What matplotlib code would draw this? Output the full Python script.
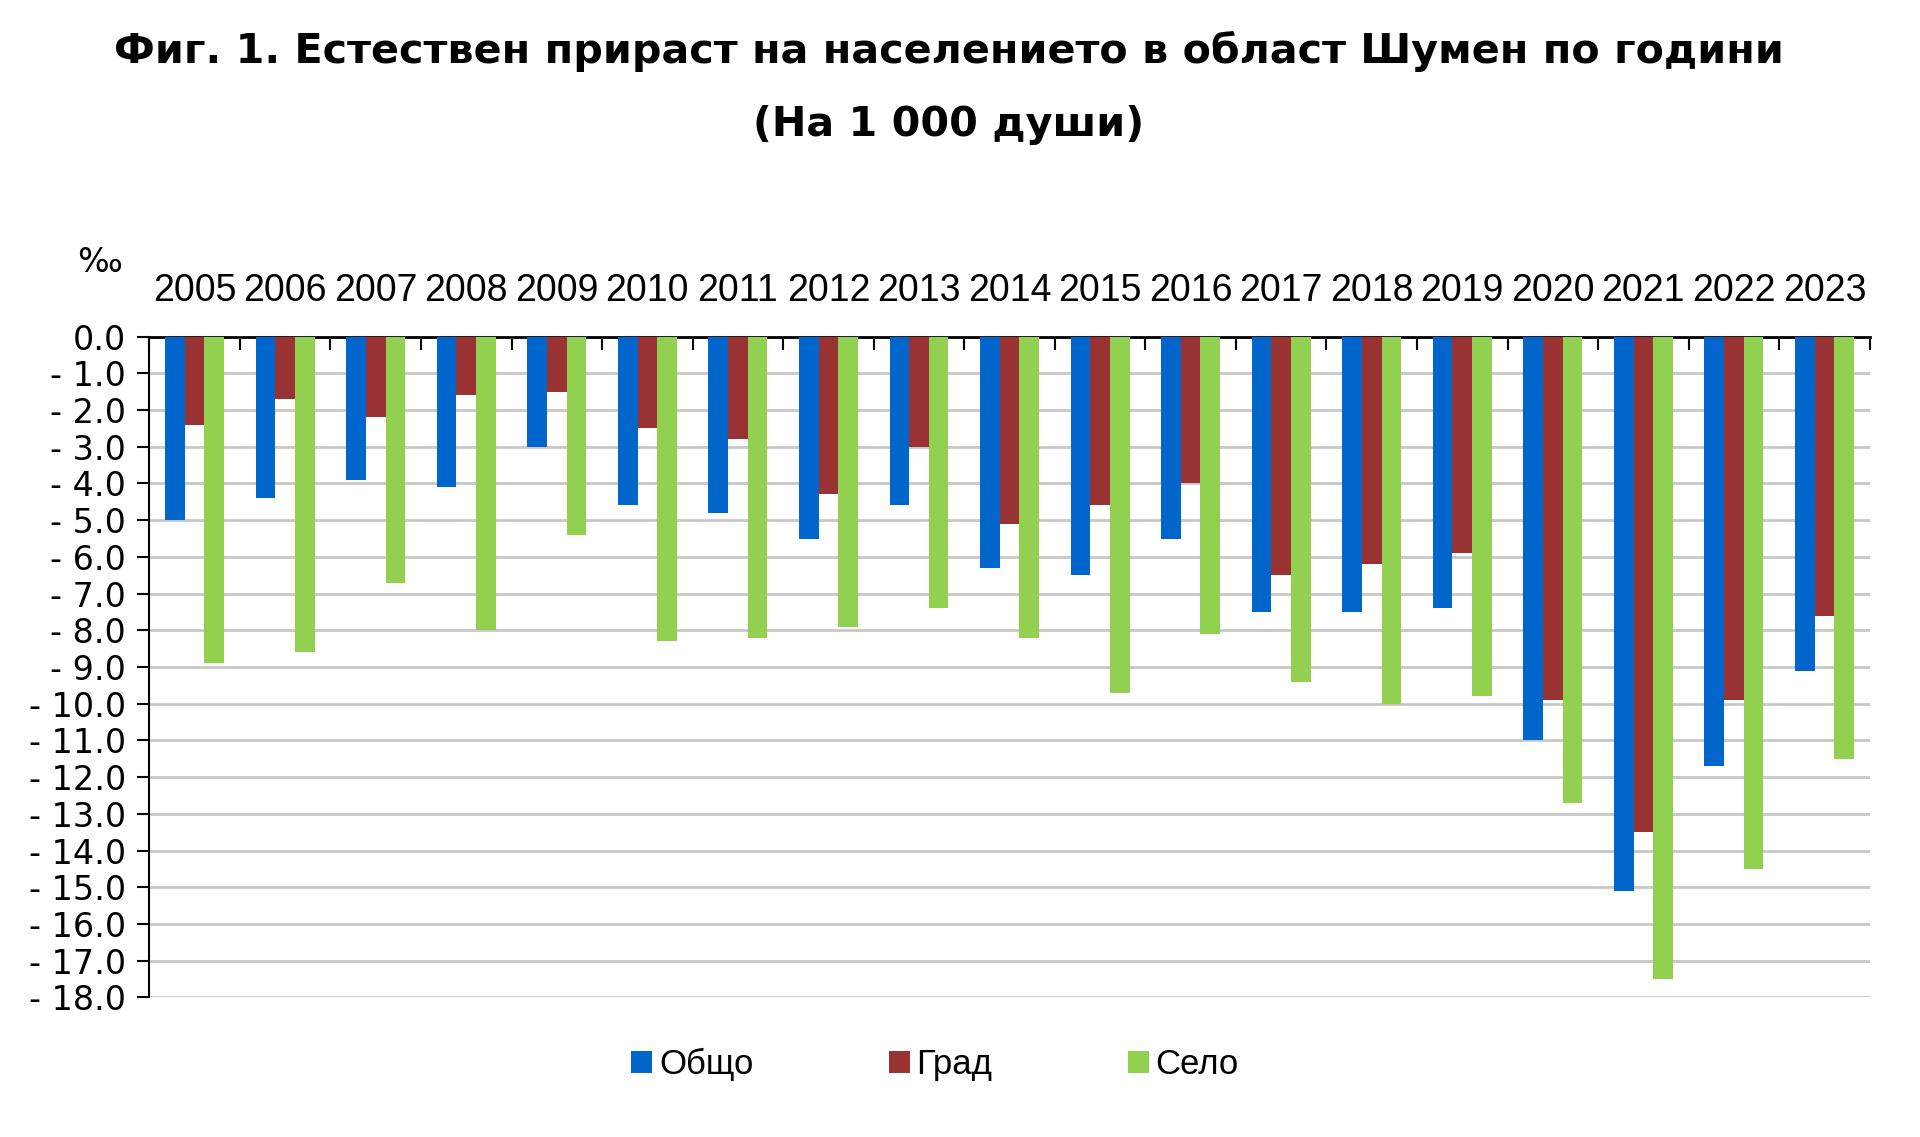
import numpy as np
import matplotlib
matplotlib.use("Agg")
import matplotlib.pyplot as plt
from matplotlib.patches import Patch
from matplotlib.ticker import FixedLocator

# data (per 1000 people)
years = ['2005', '2006', '2007', '2008', '2009', '2010', '2011', '2012', '2013', '2014',
         '2015', '2016', '2017', '2018', '2019', '2020', '2021', '2022', '2023']
total = [-5.0, -4.4, -3.9, -4.1, -3.0, -4.6, -4.8, -5.5, -4.6, -6.3,
         -6.5, -5.5, -7.5, -7.5, -7.4, -11.0, -15.1, -11.7, -9.1]
urban = [-2.4, -1.7, -2.2, -1.6, -1.5, -2.5, -2.8, -4.3, -3.0, -5.1,
         -4.6, -4.0, -6.5, -6.2, -5.9, -9.9, -13.5, -9.9, -7.6]
rural = [-8.9, -8.6, -6.7, -8.0, -5.4, -8.3, -8.2, -7.9, -7.4, -8.2,
         -9.7, -8.1, -9.4, -10.0, -9.8, -12.7, -17.5, -14.5, -11.5]
series_names = ['Общо', 'Град', 'Село']
colors = ['#0066CC', '#993333', '#92D050']

titleFont = {'family': 'DejaVu Sans', 'size': 29.7, 'weight': 'bold'}
yearFont = {'family': 'Liberation Sans', 'size': 27}
tickFont = {'family': 'DejaVu Sans', 'size': 24}

fig = plt.figure(figsize=(19.2, 11.37), dpi=100)
ax = fig.add_axes([0.0778, 0.1227, 0.896, 0.5813])

x = np.arange(len(years))
w = 0.217
for k, vals in enumerate([total, urban, rural]):
    ax.bar(x + (k - 1) * w, vals, width=w, color=colors[k], zorder=3)

ax.set_xlim(-0.5, len(years) - 0.5)
ax.set_ylim(-18, 0)

# y axis
yt = np.arange(0, -19, -1)
ax.set_yticks(yt)
ax.set_yticklabels(['0.0' if v == 0 else '- %.1f' % abs(v) for v in yt], **tickFont)
ax.tick_params(axis='y', direction='out', length=9, width=1.5, pad=8)
ax.grid(axis='y', color='#c8c8c8', linewidth=2, zorder=0)

# x axis on top at 0, labels above, ticks between groups
ax.xaxis.tick_top()
ax.set_xticks(x)
ax.set_xticklabels(years, **yearFont)
ax.xaxis.set_minor_locator(FixedLocator(np.arange(-0.5, len(years), 1)))
ax.tick_params(axis='x', which='major', length=0, pad=20)
ax.tick_params(axis='x', which='minor', direction='in', length=9, width=1.5, top=True)

for s in ['right', 'bottom']:
    ax.spines[s].set_visible(False)
ax.spines['top'].set_linewidth(2)
ax.spines['left'].set_linewidth(1.5)

fig.text(0.494, 0.955, 'Фиг. 1. Естествен прираст на населението в област Шумен по години',
         ha='center', va='center', **titleFont)
fig.text(0.494, 0.89, '(На 1 000 души)', ha='center', va='center', **titleFont)
fig.text(0.052, 0.769, '‰', ha='center', va='center', family='DejaVu Sans', size=24)

handles = [Patch(facecolor=c) for c in colors]
fig.legend(handles, series_names, loc='center', bbox_to_anchor=(0.487, 0.064), ncol=3,
           frameon=False, prop={'family': 'Liberation Sans', 'size': 25},
           handlelength=0.6, handleheight=0.6, handletextpad=0.2, columnspacing=3.9)

fig.savefig('out.png', dpi=100)
